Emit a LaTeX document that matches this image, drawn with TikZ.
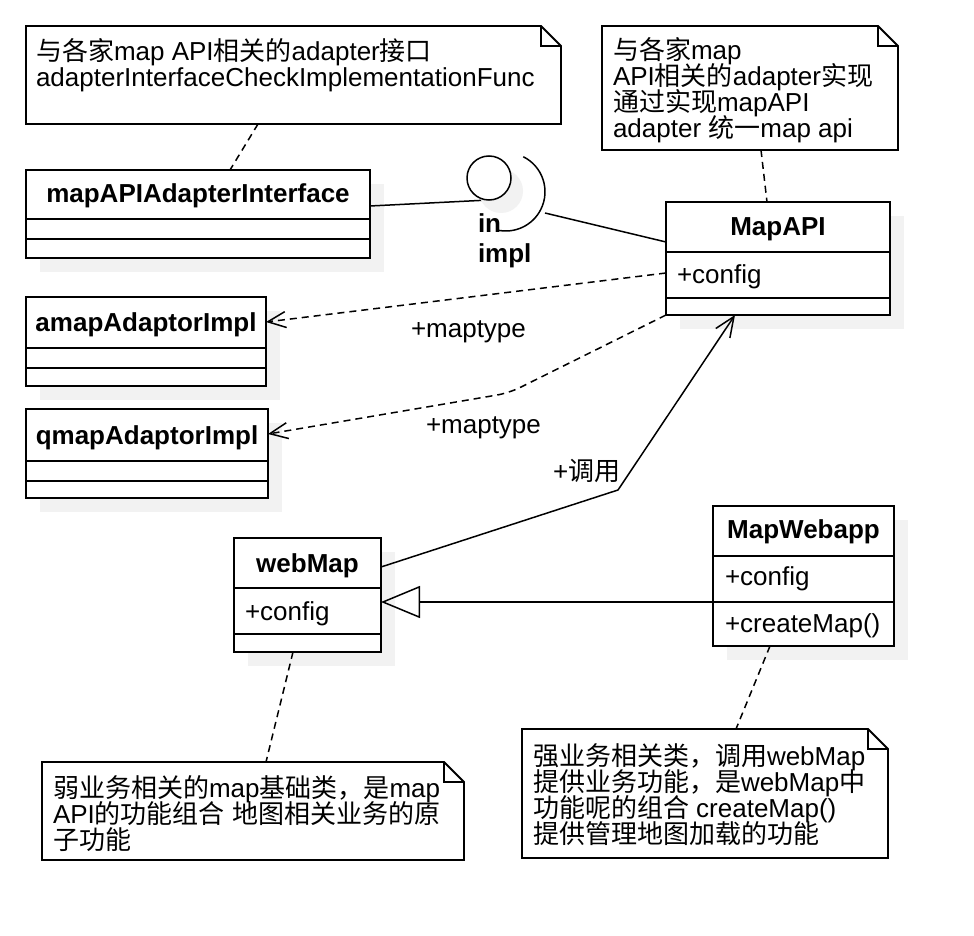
\documentclass[tikz,border=0pt]{standalone}
\usepackage{fontspec}
\setmainfont{Liberation Sans}
\newfontfamily\cjkfont{Noto Sans CJK SC}
\usetikzlibrary{arrows.meta}
\newcommand\zh[1]{{\cjkfont #1}}
% class box: name, x1, y1, x2, y2, divider1, divider2
\newcommand\umlcls[7]{%
  \fill[shd] ({#2+14},{#3+14}) rectangle ({#4+14},{#5+14});
  \node[cls, minimum width={(#4)-(#2)}, minimum height={(#5)-(#3)}] (#1) at (#2,#3) {};
  \draw[sep] (#1.west |- 0,#6) -- (#1.east |- 0,#6);
  \draw[sep] (#1.west |- 0,#7) -- (#1.east |- 0,#7);
}
% note: name, x1, y1, x2, y2
\newcommand\umlnote[5]{%
  \node[anchor=north west, minimum width={(#4)-(#2)}, minimum height={(#5)-(#3)}] (#1) at (#2,#3) {};
  \draw[notebox] (#1.north west) -- ({#4-20},#3) -- (#4,{#3+20}) -- (#1.south east) -- (#1.south west) -- cycle;
  \draw[notebox, fill=none] ({#4-20},#3) -- ({#4-20},{#3+20}) -- (#4,{#3+20});
}
\begin{document}
\begin{tikzpicture}[x=1pt, y=-1pt,
  every node/.style={inner sep=0pt, outer sep=0pt},
  font=\fontsize{26pt}{26pt}\selectfont,
  cls/.style={draw, line width=1.8pt, fill=white, anchor=north west},
  shd/.style={fill=black!5},
  sep/.style={line width=1.8pt},
  title/.style={anchor=base, font=\fontsize{26pt}{26pt}\selectfont\bfseries},
  txt/.style={anchor=base west},
  notebox/.style={line width=1.8pt, fill=white, line join=miter},
  link/.style={line width=1.5pt, dash pattern=on 7pt off 5pt},
  dep/.style={link, -{Straight Barb[length=18pt,width=16pt,line width=1.5pt]}},
  assoc/.style={line width=1.5pt, -{Straight Barb[length=20pt,width=17pt,line width=1.5pt]}},
  inh/.style={line width=1.5pt, -{Triangle[open,length=39pt,width=32pt,line width=1.5pt]}},
  thin/.style={line width=1.5pt}
]
\useasboundingbox[fill=white] (0,0) rectangle (974,936);

% ---------- notes ----------
\umlnote{note1}{26}{26}{561}{124}
\node[txt] (n1a) at (36,61) {\zh{与各家}map API\zh{相关的}adapter\zh{接口}};
\node[txt] (n1b) at (36,87) {adapterInterfaceCheckImplementationFunc};

\umlnote{note2}{602}{26}{898}{150}
\node[txt] (n2a) at (613,60) {\zh{与各家}map};
\node[txt] (n2b) at (613,86) {API\zh{相关的}adapter\zh{实现}};
\node[txt] (n2c) at (613,112) {\zh{通过实现}mapAPI};
\node[txt] (n2d) at (613,138) {adapter \zh{统一}map api};

\umlnote{note3}{42}{762}{464}{860}
\node[txt] (n3a) at (53,797) {\zh{弱业务相关的}map\zh{基础类，是}map};
\node[txt] (n3b) at (53,823) {API\zh{的功能组合} \zh{地图相关业务的原}};
\node[txt] (n3c) at (53,849) {\zh{子功能}};

\umlnote{note4}{522}{729}{888}{858}
\node[txt] (n4a) at (533,765) {\zh{强业务相关类，调用}webMap};
\node[txt] (n4b) at (533,791) {\zh{提供业务功能，是}webMap\zh{中}};
\node[txt] (n4c) at (533,817) {\zh{功能呢的组合} createMap()};
\node[txt] (n4d) at (533,843) {\zh{提供管理地图加载的功能}};

% ---------- classes ----------
\umlcls{iface}{26}{170}{370}{258}{219}{239}
\node[title] (ifacet) at (198,203) {mapAPIAdapterInterface};

\umlcls{mapapi}{666}{202}{890}{315}{252}{298}
\node[title] (mapapit) at (778,235) {MapAPI};
\node[txt] (mapapia) at (677,283) {+config};

\umlcls{amap}{26}{297}{266}{386}{348}{368}
\node[title] (amapt) at (146,331) {amapAdaptorImpl};

\umlcls{qmap}{26}{409}{268}{498}{461}{481}
\node[title] (qmapt) at (147,444) {qmapAdaptorImpl};

\umlcls{webmap}{234}{538}{381}{652}{588}{634}
\node[title] (webmapt) at (307.5,572) {webMap};
\node[txt] (webmapa) at (245,620) {+config};

\umlcls{mapwebapp}{713}{506}{894}{646}{556}{602}
\node[title] (mapwebappt) at (803.5,538) {MapWebapp};
\node[txt] (mapwebappa) at (725,585) {+config};
\node[txt] (mapwebappb) at (725,632) {+createMap()};

% ---------- lollipop / socket ----------
\draw[thin] (iface.east |- 0,206) -- (489,200);
\fill[shd] (501,191) circle[radius=22];
\node[circle, draw, line width=1.5pt, fill=white, minimum size=44pt] (lol) at (489,178) {};
\coordinate (sock) at (505.8,191.8);
\draw[thin] (sock) ++(-63.5:39.2) arc[start angle=-63.5, end angle=103.4, radius=39.2];
\coordinate (sockout) at (545,213);
\draw[thin] (sockout) -- (mapapi.west |- 0,242);
\node[txt, font=\fontsize{26pt}{26pt}\selectfont\bfseries] (inlbl) at (478,232) {in};
\node[txt, font=\fontsize{26pt}{26pt}\selectfont\bfseries] (impllbl) at (478,262) {impl};

% ---------- connectors ----------
\draw[dep] (mapapi.west |- 0,273) -- (amap.east |- 0,322);
\node[txt] (mt1) at (411,337) {+maptype};
\draw[dep, rounded corners=12pt] (mapapi.south west) -- (509,393) -- (qmap.east |- 0,434);
\node[txt] (mt2) at (426,433) {+maptype};

\draw[assoc] (webmap.east |- 0,567) -- (618,490) -- (735,0 |- mapapi.south);
\node[txt] (call) at (553,480) {+\zh{调用}};

\draw[inh] (mapwebapp.west |- 0,602) -- (webmap.east |- 0,602);

\draw[link] (258,0 |- note1.south) -- (230,0 |- iface.north);
\draw[link] (761,0 |- note2.south) -- (767,0 |- mapapi.north);
\draw[link] (293,0 |- webmap.south) -- (266,0 |- note3.north);
\draw[link] (770,0 |- mapwebapp.south) -- (736,0 |- note4.north);
\end{tikzpicture}
\end{document}
